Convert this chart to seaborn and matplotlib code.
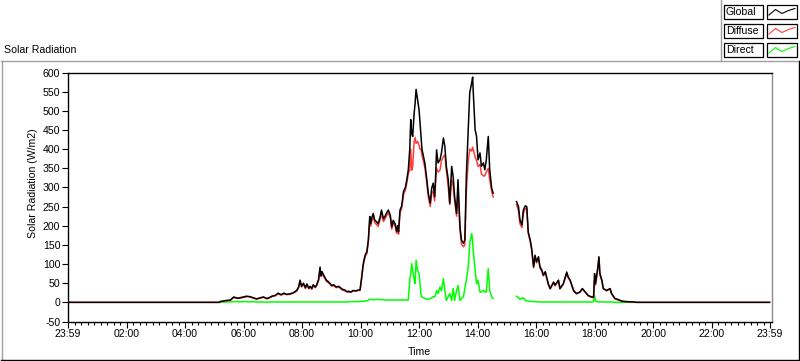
import numpy as np
import pandas as pd
import matplotlib
matplotlib.use("Agg")
import matplotlib.pyplot as plt
from matplotlib.lines import Line2D
from matplotlib.patches import Rectangle
from matplotlib.ticker import MultipleLocator, FixedLocator
import seaborn as sns

nan = np.nan

# time of day in minutes since midnight
minutes = [0, 310, 312, 325, 333, 340, 347, 353, 360, 366, 373, 380, 387, 394, 401, 408, 414, 418,
           425, 431, 437, 443, 449, 455, 462, 469, 473, 476, 479, 483, 487, 490, 494, 497, 500, 503,
           507, 510, 514, 517, 519, 521, 524, 527, 530, 534, 537, 541, 545, 550, 555, 559, 563, 568,
           572, 576, 580, 585, 590, 595, 599, 602, 605, 607, 610, 613, 616, 619, 621, 623, 626, 629,
           633, 636, 640, 643, 647, 650, 654, 657, 661, 664, 667, 671, 674, 676, 678, 681, 684, 686,
           688, 692, 695, 698, 701, 703, 705, 707, 710, 712, 714, 717, 720, 722, 724, 726, 729, 732,
           736, 739, 743, 746, 749, 752, 754, 756, 759, 763, 766, 770, 773, 776, 780, 783, 787, 790,
           793, 797, 800, 804, 807, 811, 814, 817, 821, 824, 828, 830, 831, 835, 838, 841, 845, 848,
           852, 855, 858, 862, 865, 869, 872, 873, 919, 920, 924, 927, 931, 934, 938, 941, 944, 948,
           951, 955, 958, 961, 965, 968, 972, 975, 979, 985, 989, 996, 999, 1006, 1009, 1016, 1023,
           1026, 1030, 1037, 1043, 1050, 1055, 1061, 1067, 1074, 1078, 1080, 1082, 1087, 1089, 1091,
           1095, 1098, 1105, 1112, 1115, 1122, 1129, 1136, 1143, 1160, 1165, 1439]

global_rad = [0, 0, 2, 5, 6, 14, 11, 12, 14, 16, 15, 12, 9, 12, 14, 10, 13, 16,
              18, 24, 20, 24, 21, 22, 25, 31, 40, 58, 42, 50, 38, 48, 37, 42, 36, 46,
              40, 45, 60, 92, 70, 80, 72, 65, 58, 54, 50, 44, 46, 40, 42, 38, 34, 32,
              28, 29, 27, 31, 30, 32, 33, 62, 95, 110, 125, 132, 162, 224, 205, 220, 232, 215,
              210, 205, 222, 241, 218, 224, 235, 241, 228, 197, 214, 205, 186, 200, 184, 241, 250, 267,
              289, 300, 320, 346, 400, 477, 440, 433, 494, 520, 556, 529, 503, 470, 433, 400, 381, 363,
              320, 285, 259, 298, 311, 276, 328, 398, 364, 372, 390, 429, 407, 355, 320, 259, 355, 328,
              276, 232, 320, 197, 163, 154, 163, 328, 451, 547, 573, 588, 556, 451, 433, 372, 390, 355,
              364, 346, 372, 433, 346, 298, 285, nan, nan, 263, 250, 215, 202, 241, 252, 250, 184, 163,
              141, 93, 123, 106, 119, 93, 84, 71, 80, 49, 36, 53, 45, 58, 36, 49, 79,
              66, 58, 31, 23, 27, 36, 27, 18, 14, 14, 75, 49, 93, 119, 75,
              58, 36, 31, 36, 23, 10, 7, 3, 2, 1, 0, 0]

diffuse_rad = [0, 0, 2, 4, 5, 13, 10, 11, 13, 15, 14, 11, 8, 11, 13, 9, 12, 15,
               17, 22, 19, 22, 20, 21, 24, 29, 38, 55, 40, 47, 36, 46, 35, 40, 34, 44,
               38, 43, 57, 88, 67, 76, 68, 62, 55, 51, 48, 42, 44, 38, 40, 36, 32, 30,
               27, 27, 26, 30, 29, 31, 31, 59, 91, 106, 121, 127, 157, 218, 199, 213, 225, 208,
               203, 198, 215, 234, 211, 217, 228, 234, 221, 191, 207, 199, 180, 194, 178, 234, 243, 259,
               281, 292, 312, 336, 345, 400, 345, 355, 420, 430, 415, 420, 410, 400, 400, 385, 368, 352,
               310, 276, 250, 285, 290, 265, 312, 350, 340, 345, 370, 380, 385, 345, 300, 255, 320, 305,
               265, 225, 290, 190, 152, 145, 150, 290, 370, 400, 395, 405, 400, 380, 370, 355, 360, 335,
               330, 330, 340, 350, 320, 290, 275, nan, nan, 255, 240, 205, 195, 232, 245, 244, 180, 159,
               137, 90, 119, 103, 116, 90, 81, 69, 78, 47, 35, 51, 43, 56, 35, 47, 76,
               64, 56, 30, 22, 26, 35, 26, 17, 13, 12, 57, 45, 90, 115, 72,
               56, 35, 30, 35, 22, 9, 6, 3, 2, 1, 0, 0]

direct_rad = [nan, nan, 0, 1, 1, 2, 2, 1, 2, 2, 1, 2, 1, 1, 1, 0, 1, 1,
              1, 1, 1, 1, 1, 1, 1, 1, 1, 1, 1, 1, 1, 1, 1, 1, 1, 1,
              1, 1, 1, 1, 1, 1, 1, 1, 1, 1, 1, 1, 1, 1, 1, 1, 1, 1,
              1, 1, 2, 2, 2, 2, 2, 3, 3, 3, 3, 4, 5, 8, 8, 8, 7, 7,
              8, 8, 7, 7, 7, 6, 6, 6, 6, 6, 6, 6, 6, 6, 6, 6, 6, 7,
              6, 6, 6, 6, 58, 75, 101, 84, 60, 49, 110, 84, 75, 49, 20, 14, 12, 10,
              8, 8, 10, 12, 15, 14, 20, 31, 23, 40, 30, 62, 31, 5, 15, 23, 5, 36,
              5, 31, 44, 5, 10, 14, 36, 58, 93, 154, 180, 160, 137, 84, 49, 58, 27, 27,
              31, 27, 27, 88, 31, 14, 10, nan, nan, 16, 12, 8, 10, 12, 5, 4, 3, 3,
              2, 2, 2, 1, 2, 1, 1, 1, 1, 1, 1, 1, 1, 1, 1, 1, 1,
              1, 1, 1, 1, 1, 1, 1, 1, 1, 2, 18, 3, 1, 1, 1,
              1, 1, 1, 1, 1, 0, 0, 0, 0, 0, nan, nan]

series_names = ["Global", "Diffuse", "Direct"]
series_colors = ["#000000", "#ff3c3c", "#00ff00"]

x_tick_minutes = list(range(0, 1441, 120))
x_tick_labels = ["23:59", "02:00", "04:00", "06:00", "08:00", "10:00", "12:00",
                 "14:00", "16:00", "18:00", "20:00", "22:00", "23:59"]
y_ticks = list(range(-50, 601, 50))


def segments(values):
    rows = []
    seg = 0
    for t, v in zip(minutes, values):
        if np.isnan(v):
            seg += 1
            continue
        rows.append((t, v, seg))
    return pd.DataFrame(rows, columns=["minute", "value", "seg"])


plt.rcParams["font.family"] = ["Liberation Sans", "DejaVu Sans"]
FS = 7.6

W, H = 800, 361
fig = plt.figure(figsize=(W / 100, H / 100), dpi=100)
fig.patch.set_facecolor("white")


def fx(x):
    return x / W


def fy(y):
    return 1 - y / H


ax = fig.add_axes([fx(68), fy(321.5), (772 - 68) / W, (321.5 - 72.5) / H])
ax.set_facecolor("white")

data_map = {"Global": global_rad, "Diffuse": diffuse_rad, "Direct": direct_rad}
color_map = dict(zip(series_names, series_colors))
for name in ["Direct", "Diffuse", "Global"]:
    df = segments(data_map[name])
    sns.lineplot(data=df, x="minute", y="value", units="seg", estimator=None,
                 color=color_map[name], linewidth=1.1, ax=ax, legend=False)

ax.set_xlim(0, 1444)
ax.set_ylim(-50, 600)
ax.xaxis.set_major_locator(FixedLocator(x_tick_minutes))
ax.set_xticklabels(x_tick_labels)
ax.xaxis.set_minor_locator(MultipleLocator(120 / 9))
ax.yaxis.set_major_locator(FixedLocator(y_ticks))
ax.set_yticklabels([str(v) for v in y_ticks])
ax.tick_params(axis="both", which="major", direction="out", length=4, width=0.8,
               colors="black", labelsize=FS, pad=1.5)
ax.tick_params(axis="x", which="minor", direction="out", length=2.2, width=0.8, colors="black")
ax.set_xlabel("")
ax.set_ylabel("")
for side in ["left", "top", "bottom"]:
    ax.spines[side].set_color("black")
    ax.spines[side].set_linewidth(1.0)
ax.spines["right"].set_color("#8c8c8c")
ax.spines["right"].set_linewidth(1.0)
ax.grid(False)

# titles / axis labels
fig.text(fx(4), fy(50), "Solar Radiation", fontsize=FS, ha="left", va="center")
fig.text(fx(419), fy(352), "Time", fontsize=FS, ha="center", va="center")
fig.text(fx(33), fy(183), "Solar Radiation (W/m2)", fontsize=FS, ha="center", va="center",
         rotation=90)

# panel frame
tf = fig.transFigure
fig.add_artist(Line2D([fx(1), fx(800)], [fy(61), fy(61)], color="#a0a0a0", lw=1, transform=tf))
fig.add_artist(Line2D([fx(1.5), fx(1.5)], [fy(61), fy(360)], color="#a0a0a0", lw=1, transform=tf))
fig.add_artist(Line2D([fx(1), fx(800)], [fy(359.5), fy(359.5)], color="black", lw=1, transform=tf))
fig.add_artist(Line2D([fx(798.5), fx(798.5)], [fy(61), fy(360)], color="black", lw=1, transform=tf))
fig.add_artist(Line2D([fx(721), fx(721)], [fy(0), fy(61)], color="#a0a0a0", lw=1, transform=tf))

# legend (label box + sample box per series)
row_tops = [5, 24, 43]
for name, col, top in zip(series_names, series_colors, row_tops):
    fig.add_artist(Rectangle((fx(724), fy(top + 14)), 39 / W, 14 / H, transform=tf,
                             facecolor="white", edgecolor="black", lw=0.9))
    fig.text(fx(726), fy(top + 7.2), name, fontsize=FS, ha="left", va="center")
    fig.add_artist(Rectangle((fx(767), fy(top + 14)), 30 / W, 14 / H, transform=tf,
                             facecolor="white", edgecolor="black", lw=0.9))
    zx = [769, 775.5, 782, 788.5, 795]
    zy = [top + 10, top + 4.5, top + 8.5, top + 5.5, top + 3.5]
    fig.add_artist(Line2D([fx(v) for v in zx], [fy(v) for v in zy], color=col, lw=0.8,
                          transform=tf))

fig.savefig("out.png", dpi=100, facecolor="white")
